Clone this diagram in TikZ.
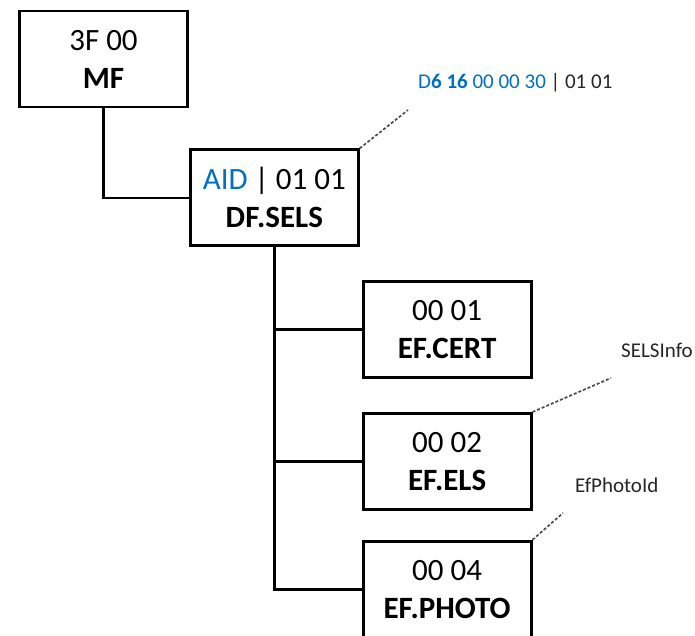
\documentclass[tikz,border=0pt]{standalone}
\usepackage{fontspec}
\setmainfont{Carlito}
\usepackage{xcolor}
\usetikzlibrary{positioning}
\definecolor{aidblue}{RGB}{0,112,192}

\begin{document}
\begin{tikzpicture}[
  file/.style={rectangle, draw, line width=2.8pt, minimum width=168pt,
    minimum height=96pt, align=center, font=\fontsize{31}{38}\selectfont},
  link/.style={line width=2.6pt},
  callout/.style={draw=black!70, line width=1.7pt, dash pattern=on 3pt off 2pt},
  tag/.style={font=\fontsize{21}{24}\selectfont, text=black!85, inner sep=0pt, anchor=base west},
  node distance=33pt and 2pt
]
\useasboundingbox (0pt,0pt) rectangle (695pt,-635pt);
\node[file] (mf) at (103.5pt,-59pt) {3F 00\\\textbf{MF}};
\node[file, below=40pt of mf.south east, anchor=north west] (dfsels) {\textcolor{aidblue}{AID}\ |\ 01 01\\\textbf{DF.SELS}};
\node[file, below right=of dfsels.south east] (efcert) {00 01\\\textbf{EF.CERT}};
\node[file, below=of efcert] (efels) {00 02\\\textbf{EF.ELS}};
\node[file, below=29pt of efels] (efphoto) {00 04\\\textbf{EF.PHOTO}};
\draw[link] (mf.south) |- (dfsels.west);
\draw[link] (dfsels.south) |- (efphoto.west);
\draw[link] (dfsels.south |- efcert.west) -- (efcert.west);
\draw[link] (dfsels.south |- efels.west) -- (efels.west);
\node[tag] (aidref) at (418pt,-88pt) {\textcolor{aidblue}{D\textbf{6 16} 00 00 30} | 01 01};
\node[tag] (selsinfo) at (621pt,-357pt) {SELSInfo};
\node[tag] (photoid) at (575pt,-492pt) {EfPhotoId};
\coordinate (aidtip) at (408pt,-110pt);
\coordinate (infotip) at (611pt,-378pt);
\coordinate (phototip) at (563pt,-513pt);
\draw[callout] (dfsels.north east) -- (aidtip);
\draw[callout] (efels.north east) -- (infotip);
\draw[callout] (efphoto.north east) -- (phototip);
\end{tikzpicture}
\end{document}
